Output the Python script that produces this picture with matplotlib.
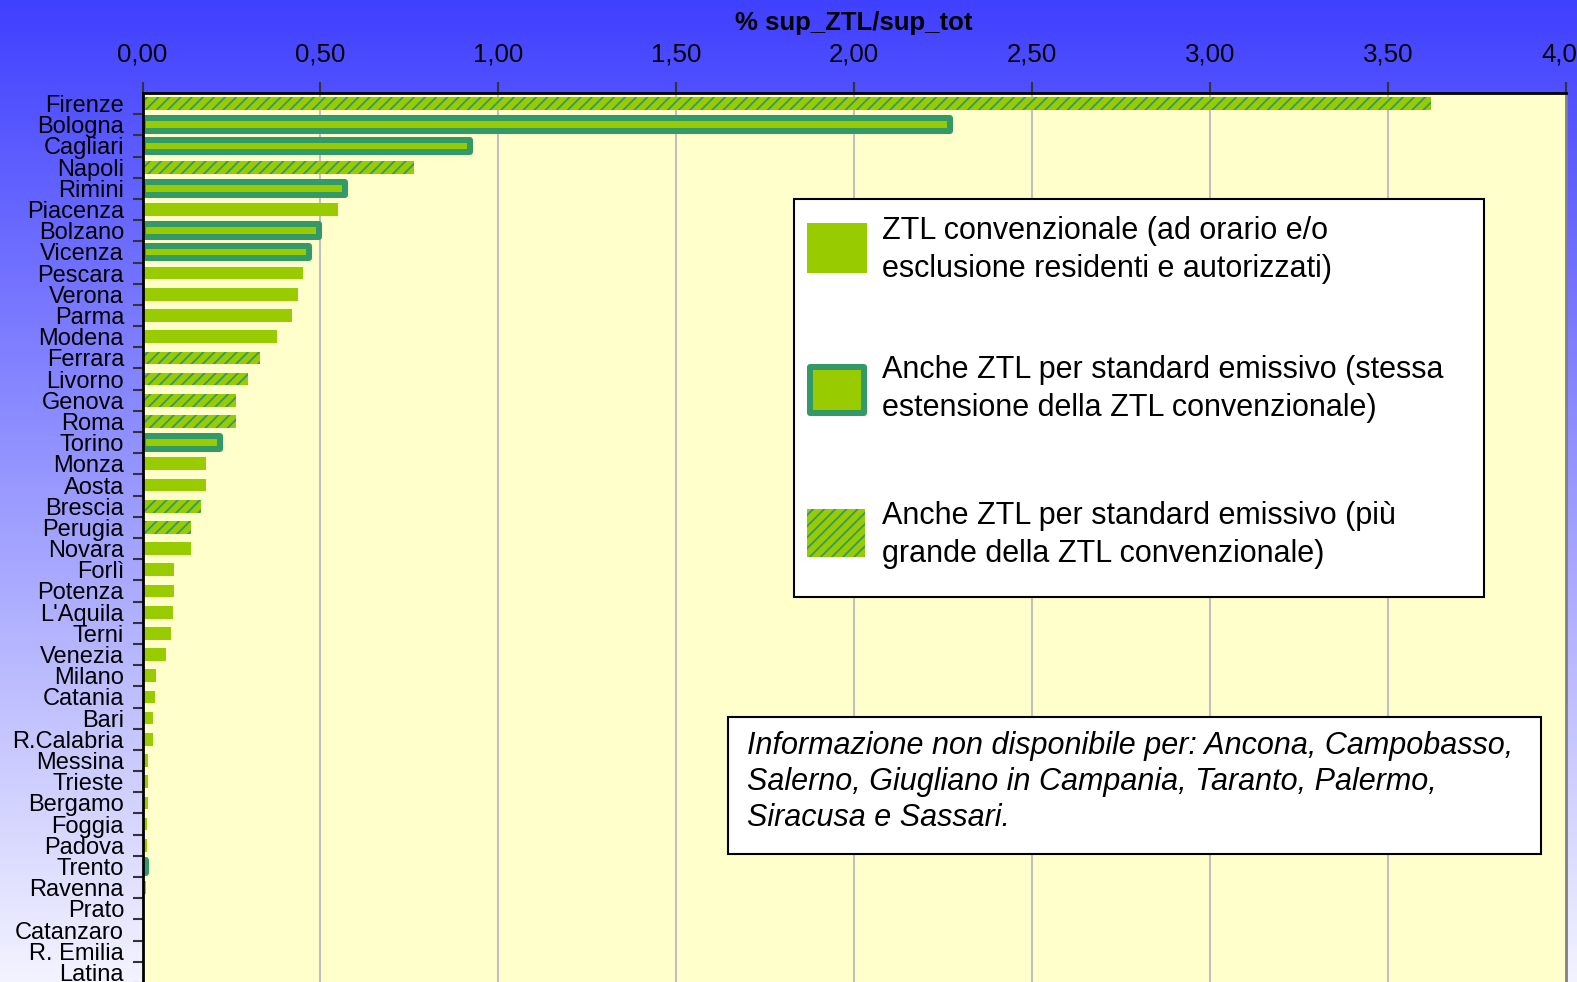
import numpy as np
import matplotlib
matplotlib.use("Agg")
import matplotlib.pyplot as plt
from matplotlib.patches import Rectangle

plt.rcParams['font.family'] = ['Liberation Sans', 'DejaVu Sans']
plt.rcParams['hatch.linewidth'] = 1.3

# Data
cities = ['Firenze', 'Bologna', 'Cagliari', 'Napoli', 'Rimini', 'Piacenza', 'Bolzano',
          'Vicenza', 'Pescara', 'Verona', 'Parma', 'Modena', 'Ferrara', 'Livorno',
          'Genova', 'Roma', 'Torino', 'Monza', 'Aosta', 'Brescia', 'Perugia', 'Novara',
          'Forlì', 'Potenza', "L'Aquila", 'Terni', 'Venezia', 'Milano', 'Catania', 'Bari',
          'R.Calabria', 'Messina', 'Trieste', 'Bergamo', 'Foggia', 'Padova', 'Trento',
          'Ravenna', 'Prato', 'Catanzaro', 'R. Emilia', 'Latina']
values = [3.62, 2.27, 0.92, 0.763, 0.57, 0.549, 0.496,
          0.469, 0.451, 0.436, 0.42, 0.378, 0.329, 0.296,
          0.263, 0.263, 0.218, 0.178, 0.178, 0.164, 0.136, 0.136,
          0.088, 0.088, 0.085, 0.079, 0.065, 0.037, 0.034, 0.029,
          0.029, 0.015, 0.015, 0.015, 0.012, 0.012, 0.01,
          0.009, 0.003, 0.003, 0.001, 0.0]
# 'c' = convenzionale, 's' = stessa estensione, 'g' = piu' grande
zone_type = ['g', 's', 's', 'g', 's', 'c', 's',
             's', 'c', 'c', 'c', 'c', 'g', 'g',
             'g', 'g', 's', 'c', 'c', 'g', 'g', 'c',
             'c', 'c', 'c', 'c', 'c', 'c', 'c', 'c',
             'c', 'c', 'c', 'c', 'c', 'c', 's',
             'c', 'c', 'c', 'c', 'c']
xticks = [0, 0.5, 1.0, 1.5, 2.0, 2.5, 3.0, 3.5, 4.0]
xtick_labels = ['0,00', '0,50', '1,00', '1,50', '2,00', '2,50', '3,00', '3,50', '4,00']
legend_labels = ['ZTL convenzionale (ad orario e/o\nesclusione residenti e autorizzati)',
                 'Anche ZTL per standard emissivo (stessa\nestensione della ZTL convenzionale)',
                 'Anche ZTL per standard emissivo (più\ngrande della ZTL convenzionale)']
note = ('Informazione non disponibile per: Ancona, Campobasso,\n'
        'Salerno, Giugliano in Campania, Taranto, Palermo,\n'
        'Siracusa e Sassari.')

GREEN = '#99CC00'
DARK = '#339966'
W, H = 1577, 982
px = 72 / 100  # points per pixel

fig = plt.figure(figsize=(W / 100, H / 100), dpi=100)

# background gradient
bg = fig.add_axes([0, 0, 1, 1], zorder=0)
t = np.linspace(0, 1, 256)[:, None]
top = np.array([64, 64, 255]) / 255
bot = np.array([243, 243, 255]) / 255
grad = top[None, None, :] * (1 - t[..., None]) + bot[None, None, :] * t[..., None]
grad = np.repeat(grad, 2, axis=1)
bg.imshow(grad, aspect='auto', extent=[0, 1, 0, 1])
bg.axis('off')

# main axes
left, right, ytop, ybot = 142.5, 1566, 93, 983
ax = fig.add_axes([left / W, 1 - ybot / H, (right - left) / W, (ybot - ytop) / H], zorder=1)
ax.set_facecolor('#FFFFCC')

y = np.arange(len(cities))
for yi, v, zt in zip(y, values, zone_type):
    if zt == 'c':
        ax.barh(yi, v, height=0.6, color=GREEN, linewidth=0, zorder=2)
    elif zt == 's':
        ax.barh(yi, v, height=0.6, color=GREEN, edgecolor=DARK, linewidth=6 * px,
                joinstyle='round', zorder=2)
    else:
        ax.barh(yi, v, height=0.6, color=GREEN, edgecolor=DARK, linewidth=0,
                hatch='///', zorder=2)

ax.set_xlim(0, 4)
ax.set_ylim(len(cities) - 0.5, -0.5)
ax.xaxis.tick_top()
ax.set_xticks(xticks)
ax.set_xticklabels(xtick_labels, fontsize=18.6)
ax.tick_params(axis='x', length=8, width=1.5, color='#333333', pad=11)
for xv in xticks[1:-1]:
    ax.axvline(xv, color='#C0C0C0', linewidth=1.5, zorder=1)

ax.set_yticks(y + 0.5)
ax.set_yticklabels([])
ax.tick_params(axis='y', which='major', length=7, width=1.5, color='#333333')
ax.set_yticks(y, minor=True)
ax.set_yticklabels(cities, minor=True, fontsize=17)
ax.tick_params(axis='y', which='minor', length=0, pad=13.3)

ax.spines['left'].set_linewidth(2)
ax.spines['top'].set_linewidth(2)
ax.spines['right'].set_color('#808080')
ax.spines['right'].set_linewidth(2)
ax.spines['bottom'].set_visible(False)

fig.text(854 / W, 1 - 23 / H, '% sup_ZTL/sup_tot', ha='center', va='center',
         fontsize=18.5, fontweight='bold')

# overlay in pixel coordinates for the legend and the note
ov = fig.add_axes([0, 0, 1, 1], zorder=3)
ov.set_xlim(0, W)
ov.set_ylim(H, 0)
ov.axis('off')

ov.add_patch(Rectangle((793.5, 199), 690, 397.5, facecolor='white', edgecolor='black',
                       linewidth=1.5))
ov.add_patch(Rectangle((807, 223), 60, 50, facecolor=GREEN, linewidth=0))
ov.add_patch(Rectangle((810, 367), 54, 46, facecolor=GREEN, edgecolor=DARK,
                       linewidth=6 * px, joinstyle='round'))
ov.add_patch(Rectangle((807, 509), 58, 48, facecolor=GREEN, edgecolor=DARK,
                       linewidth=0, hatch='///'))
for lab, yc in zip(legend_labels, [250, 389, 535]):
    ov.text(882, yc, lab, ha='left', va='center', fontsize=22, linespacing=1.32)

ov.add_patch(Rectangle((728, 717), 813, 137, facecolor='white', edgecolor='black',
                       linewidth=1.5))
ov.text(747, 782, note, ha='left', va='center', fontsize=22, style='italic',
        linespacing=1.26)

fig.savefig('out.png', dpi=100)
